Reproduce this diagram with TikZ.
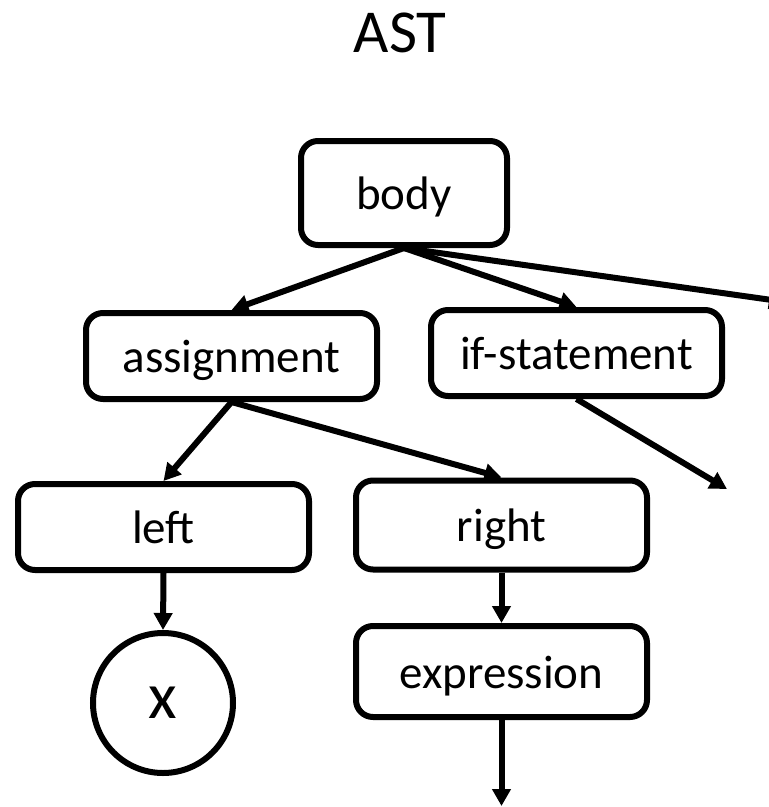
\documentclass[tikz,border=0pt]{standalone}
\usepackage{fontspec}
\setmainfont{Carlito}
\usetikzlibrary{arrows.meta}
\begin{document}
\begin{tikzpicture}[x=1pt, y=-1pt,
  box/.style={draw, line width=6pt, rounded corners=17pt, inner sep=0pt,
    minimum width=291pt, font=\fontsize{47}{56}\selectfont,
    text height=35pt, text depth=2pt},
  leaf/.style={draw, circle, line width=6pt, inner sep=0pt,
    minimum size=140pt, font=\fontsize{66}{78}\selectfont},
  link/.style={line width=6pt, -{Triangle[length=17pt, width=18pt]}}]
  \useasboundingbox (0,0) rectangle (769,807);
  \clip (0,0) rectangle (769,807);

  % title
  \node[anchor=base, font=\fontsize{61}{72}\selectfont] (title) at (400,52) {AST};

  % tree nodes
  \node[box, minimum width=206pt, minimum height=104pt] (body) at (404,193) {body};
  \node[box, minimum height=86pt] (assign) at (231.5,356) {assignment};
  \node[box, minimum height=86pt] (ifst) at (576.5,353) {if-statement};
  \node[box, minimum height=86pt] (left) at (163.5,527) {left};
  \node[box, minimum height=89pt] (right) at (501.5,525) {right};
  \node[box, minimum height=91pt] (expr) at (501.5,671.5) {expression};
  \node[leaf] (x) at (163,703) {x};

  % loose ends of the tree
  \coordinate (bodyOut) at (786,302);
  \coordinate (ifOut) at (727,489);
  \coordinate (exprOut) at (501.5,806);

  % connectors
  \draw[link] (body.south) -- (assign.north);
  \draw[link] (body.south) -- (ifst.north);
  \draw[link] (body.south) -- (bodyOut);
  \draw[link] (assign.south) -- (left.north);
  \draw[link] (assign.south) -- (right.north);
  \draw[link] (ifst.south) -- (ifOut);
  \draw[link] (left.south) -- (x.north);
  \draw[link] (right.south) -- (expr.north);
  \draw[link] (expr.south) -- (exprOut);
\end{tikzpicture}
\end{document}
